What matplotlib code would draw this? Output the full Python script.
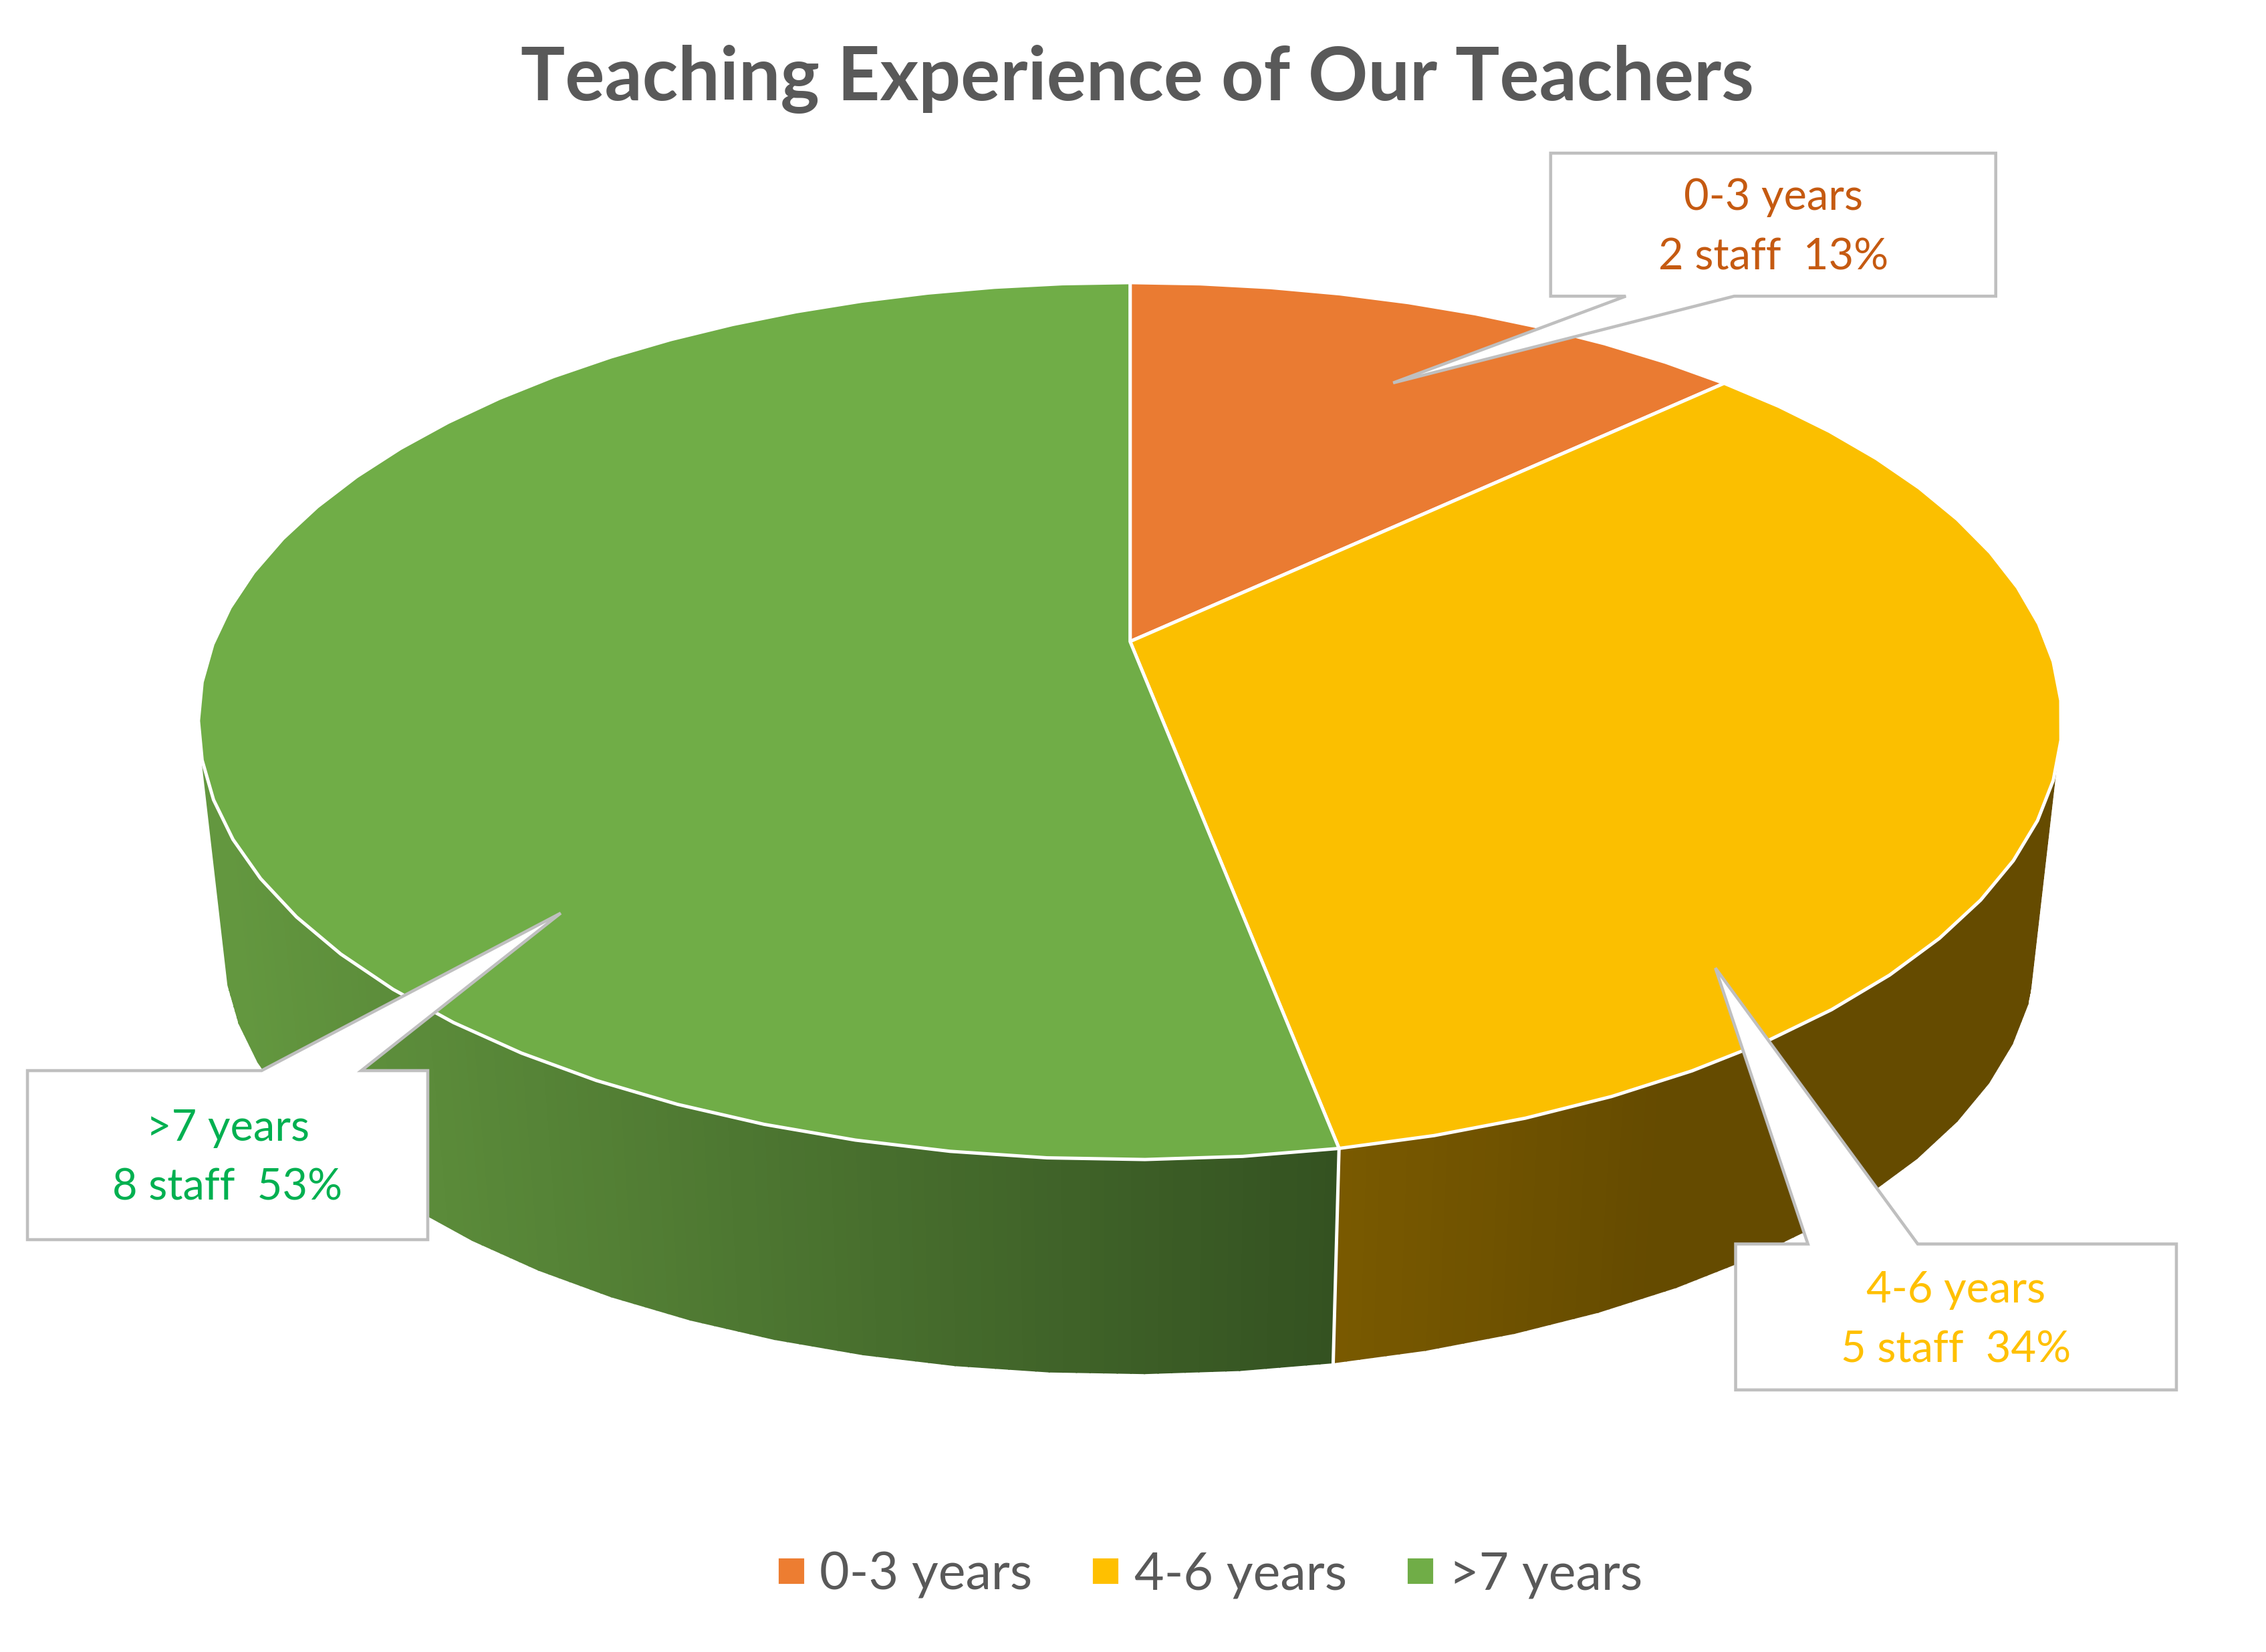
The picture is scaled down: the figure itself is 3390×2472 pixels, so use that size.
import numpy as np
import matplotlib
matplotlib.use('Agg')
import matplotlib.pyplot as plt
from matplotlib.lines import Line2D
import matplotlib.colors as c

title = 'Teaching Experience of Our Teachers'
categories = ['0-3 years', '4-6 years', '>7 years']
staff = [2, 5, 8]
shares = [13, 34, 53]

top_colors = ['#EA7B32', '#FBBF00', '#70AD47']
legend_colors = ['#ED7D31', '#FFC000', '#70AD47']
label_colors = ['#C55A11', '#FFC000', '#00B050']
# wall shading, left end and right end of the visible wall
wall_left = ['#ED7D31', '#7A5A00', '#63973F']
wall_right = ['#ED7D31', '#654B00', '#345221']

# Callout boxes: left, top, right, bottom, tail base x1, x2, tip x, tip y
callouts = [
    (1073, 106, 1381, 205, 1125, 1200, 964, 265),
    (1201, 861, 1506, 962, 1251, 1327, 1187, 670),
    (19, 741, 296, 858, 181, 250, 388, 632),
]

# Perspective of the pie, in the 1568 wide picture units
CX, CY = 782, 444
A, B, K = 634, 293.5, 0.1815
DEPTH_S, DEPTH_Y = 0.972, 6090
RIM_STEP = 5.0
WALL_TOP = 528

plt.rcParams['font.family'] = ['Lato', 'DejaVu Sans']


# Angle is clockwise from 12 o'clock, in degrees. Returns points of the top face.
def project(deg, r=1.0):
    t = np.radians(deg)
    u, v = r * np.sin(t), r * np.cos(t)
    w = 1 + K * v
    return CX + A * u / w, CY - B * v / w


# Moves top face points down to the bottom face.
def lower(x, y):
    return CX + DEPTH_S * (x - CX), DEPTH_Y + DEPTH_S * (y - DEPTH_Y)


def wallColor(i, x, x0, x1):
    f = np.clip((x - x0) / (x1 - x0), 0, 1)
    a = np.array(c.to_rgb(wall_left[i]))
    b = np.array(c.to_rgb(wall_right[i]))
    return a + (b - a) * f


def drawCallout(ax, box, color, text):
    l, t, r, b, b1, b2, tx, ty = box
    if ty < t:
        xs = [l, b1, tx, b2, r, r, l, l]
        ys = [t, t, ty, t, t, b, b, t]
    else:
        xs = [l, r, r, b2, tx, b1, l, l]
        ys = [t, t, b, b, ty, b, b, t]
    ax.fill(xs, ys, facecolor='white', edgecolor='#BFBFBF', linewidth=1.1,
            joinstyle='miter', zorder=10)
    ax.text((l + r) / 2, (t + b) / 2 + 2, text, color=color, fontsize=15.6, ha='center',
            va='center', linespacing=1.63, zorder=11)


fig = plt.figure(figsize=(11.3, 8.24))
ax = fig.add_axes([0, 0, 1, 1])
ax.set_xlim(0, 1568)
ax.set_ylim(1143.4, 0)
ax.axis('off')

edges = np.concatenate([[0], np.cumsum(shares)]) * 360.0 / sum(shares)

# side wall, only the front part shows
for i in range(len(shares)):
    a0, a1 = edges[i], edges[i + 1]
    n = max(int((a1 - a0) / RIM_STEP), 1)
    coarse = np.linspace(a0, a1, n + 1)
    xtc, ytc = project(coarse)
    xt = np.concatenate([np.linspace(xtc[j], xtc[j + 1], 8)[:-1] for j in range(n)] + [[xtc[-1]]])
    yt = np.concatenate([np.linspace(ytc[j], ytc[j + 1], 8)[:-1] for j in range(n)] + [[ytc[-1]]])
    xb, yb = lower(xt, yt)
    x0, x1 = (157, 921) if i == 2 else (921, 1150)
    for j in range(len(xt) - 1):
        if (yt[j] + yt[j + 1]) / 2 < WALL_TOP:
            continue
        col = wallColor(i, (xt[j] + xt[j + 1]) / 2, x0, x1)
        ax.fill([xt[j], xt[j + 1], xb[j + 1], xb[j]], [yt[j], yt[j + 1], yb[j + 1], yb[j]],
                facecolor=col, edgecolor=col, linewidth=0.5, zorder=1)

# white divider on the wall
xd, yd = project(edges[2])
xl, yl = lower(xd, yd)
ax.plot([xd, xl], [yd, yl], color='white', linewidth=1.2, zorder=2)

# top face
for i in range(len(shares)):
    n = max(int((edges[i + 1] - edges[i]) / RIM_STEP), 1)
    x, y = project(np.linspace(edges[i], edges[i + 1], n + 1))
    ax.fill(np.r_[CX, x, CX], np.r_[CY, y, CY], facecolor=top_colors[i], edgecolor='white',
            linewidth=1.2, joinstyle='round', zorder=3)

for i in range(len(callouts)):
    drawCallout(ax, callouts[i], label_colors[i], f'{categories[i]}\n{staff[i]} staff  {shares[i]}%')

ax.text(787, 55, title, color='#595959', fontsize=26.6, fontweight='bold', ha='center', va='center')

handles = [Line2D([], [], linestyle='none', marker='s', markersize=8.2, color=col) for col in legend_colors]
ax.legend(handles, categories, ncol=3, frameon=False, loc='center',
          bbox_to_anchor=(838 / 1568, 1 - 1090 / 1143.4), fontsize=18.5, labelcolor='#595959',
          handlelength=0.45, handletextpad=0.33, columnspacing=1.2)

fig.savefig('out.png', dpi=300)
